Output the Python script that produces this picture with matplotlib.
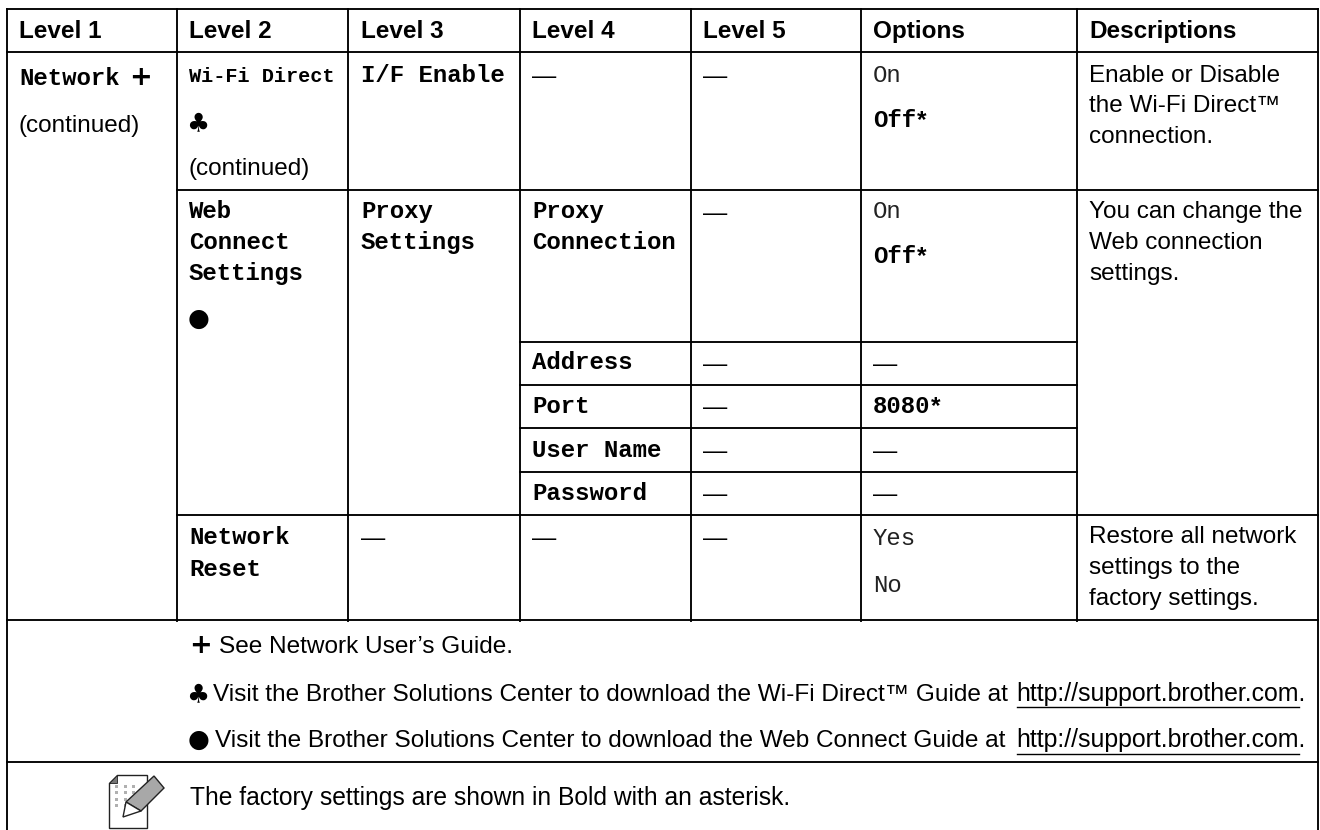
import matplotlib
matplotlib.use("Agg")
import matplotlib.pyplot as plt
from matplotlib.patches import Polygon, Rectangle

W, H = 1320, 830
SANS = "Liberation Sans"
MONO = "Liberation Mono"
SYM = "DejaVu Sans"

col_x = [7, 177, 348, 520, 691, 861, 1077, 1318]
text_x = [19, 189, 361, 532, 703, 873, 1089]
headers = ["Level 1", "Level 2", "Level 3", "Level 4", "Level 5", "Options", "Descriptions"]
row_y = [9, 52, 190, 342, 385, 428, 472, 515, 620, 762]

# text, column, baseline y
bold_cells = [
    ("Network", 0, 85), ("I/F Enable", 2, 82),
    ("Off", 5, 127), ("Web", 1, 218), ("Connect", 1, 249), ("Settings", 1, 280),
    ("Proxy", 2, 218), ("Settings", 2, 249), ("Proxy", 3, 218), ("Connection", 3, 249),
    ("Off", 5, 263), ("Address", 3, 369), ("Port", 3, 413), ("8080", 5, 413),
    ("User Name", 3, 457), ("Password", 3, 500), ("Network", 1, 544), ("Reset", 1, 576),
]
regular_cells = [("On", 5, 82), ("On", 5, 218), ("Yes", 5, 545), ("No", 5, 592)]
sans_cells = [("(continued)", 0, 132), ("(continued)", 1, 175)]
stars = [(917, 127), (917, 263), (931, 413)]
dashes = [(3, 83), (4, 83), (4, 220), (4, 371), (5, 371), (4, 414), (4, 458), (5, 458),
          (4, 501), (5, 501), (2, 545), (3, 545), (4, 545)]
desc_lines = [
    ("Enable or Disable", 82), ("the Wi-Fi Direct™", 112), ("connection.", 143),
    ("You can change the", 218), ("Web connection", 249), ("settings.", 280),
    ("Restore all network", 543), ("settings to the", 574), ("factory settings.", 605),
]
note_see = "See Network User’s Guide."
note_wifi = "Visit the Brother Solutions Center to download the Wi-Fi Direct™ Guide at"
note_web = "Visit the Brother Solutions Center to download the Web Connect Guide at"
url = "http://support.brother.com."
footer = "The factory settings are shown in Bold with an asterisk."

fig = plt.figure(figsize=(W / 100, H / 100), dpi=100)
ax = fig.add_axes([0, 0, 1, 1])
ax.set_xlim(0, W)
ax.set_ylim(H, 0)
ax.axis("off")

LW = 1.35
FS = 17.5
NS = 17.6
MS = 17.3


def hline(x0, x1, y, lw=LW):
    ax.plot([x0, x1], [y, y], color="black", lw=lw, solid_capstyle="projecting")


def vline(x, y0, y1, lw=LW):
    ax.plot([x, x], [y0, y1], color="black", lw=lw, solid_capstyle="projecting")


def sym(ch, x, y, size, weight="normal"):
    ax.text(x, y, ch, fontfamily=SYM, fontsize=size, fontweight=weight, ha="center", va="baseline", color="black")


# table frame
vline(col_x[0], row_y[0], H)
vline(col_x[-1], row_y[0], H)
for x in col_x[1:-1]:
    vline(x, row_y[0], row_y[8] + 1)
hline(col_x[0], col_x[-1], row_y[0])
hline(col_x[0], col_x[-1], row_y[1])
hline(col_x[1], col_x[-1], row_y[2])
for y in row_y[3:7]:
    hline(col_x[3], col_x[6], y)
hline(col_x[1], col_x[-1], row_y[7])
hline(col_x[0], col_x[-1], row_y[8])
hline(col_x[0], col_x[-1], row_y[9])

for i, h in enumerate(headers):
    ax.text(text_x[i], 38, h, fontfamily=SANS, fontweight="bold", fontsize=FS, va="baseline")

ax.text(text_x[1], 82, "Wi-Fi Direct", fontfamily=MONO, fontweight="bold", fontsize=14.6, va="baseline")
for txt, c, y in bold_cells:
    ax.text(text_x[c], y, txt, fontfamily=MONO, fontweight="bold", fontsize=MS, va="baseline")
for txt, c, y in regular_cells:
    ax.text(text_x[c], y, txt, fontfamily=MONO, fontsize=MS, va="baseline", color="#222222")
for txt, c, y in sans_cells:
    ax.text(text_x[c], y, txt, fontfamily=SANS, fontsize=FS, va="baseline")
for x, y in stars:
    ax.text(x, y, "*", fontfamily=SANS, fontweight="bold", fontsize=FS, va="baseline")
for c, y in dashes:
    ax.text(text_x[c], y, "—", fontfamily=SANS, fontsize=FS, va="baseline")
for txt, y in desc_lines:
    ax.text(text_x[6], y, txt, fontfamily=SANS, fontsize=FS, va="baseline")

# reference marks in the cells
sym("+", 141, 85, 19.5, "bold")
sym("♣", 198, 131, 18.5)
sym("●", 199, 326, 18)

# notes
sym("+", 200, 653, 19.5, "bold")
ax.text(219, 653, note_see, fontfamily=SANS, fontsize=NS, va="baseline")
sym("♣", 198, 702, 18.5)
ax.text(213, 701, note_wifi, fontfamily=SANS, fontsize=NS, va="baseline")
ax.text(1016, 701, url, fontfamily=SANS, fontsize=17.9, va="baseline")
hline(1017, 1299, 707, 1.0)
sym("●", 199, 747, 18)
ax.text(215, 747, note_web, fontfamily=SANS, fontsize=NS, va="baseline")
ax.text(1016, 747, url, fontfamily=SANS, fontsize=17.9, va="baseline")
hline(1017, 1299, 754, 1.0)

ax.text(190, 805, footer, fontfamily=SANS, fontsize=17.75, va="baseline")

# note icon
ax.add_patch(Polygon([(117, 775), (147, 775), (147, 828), (109, 828), (109, 783)], fc="white", ec="#222222", lw=1))
ax.add_patch(Polygon([(117, 775), (117, 783), (109, 783)], fc="#777777", ec="#222222", lw=0.6))
for px in (115, 124, 132):
    for py in (785, 791, 798, 804):
        ax.add_patch(Rectangle((px, py), 3, 3, color="#b0b0b0", lw=0))
ax.add_patch(Polygon([(154, 776), (164, 788), (141, 811), (126, 802)], fc="#a8a8a8", ec="#222222", lw=1))
ax.add_patch(Polygon([(126, 802), (141, 811), (123, 817)], fc="white", ec="#222222", lw=1))

fig.savefig("out.png", dpi=100, facecolor="white")
